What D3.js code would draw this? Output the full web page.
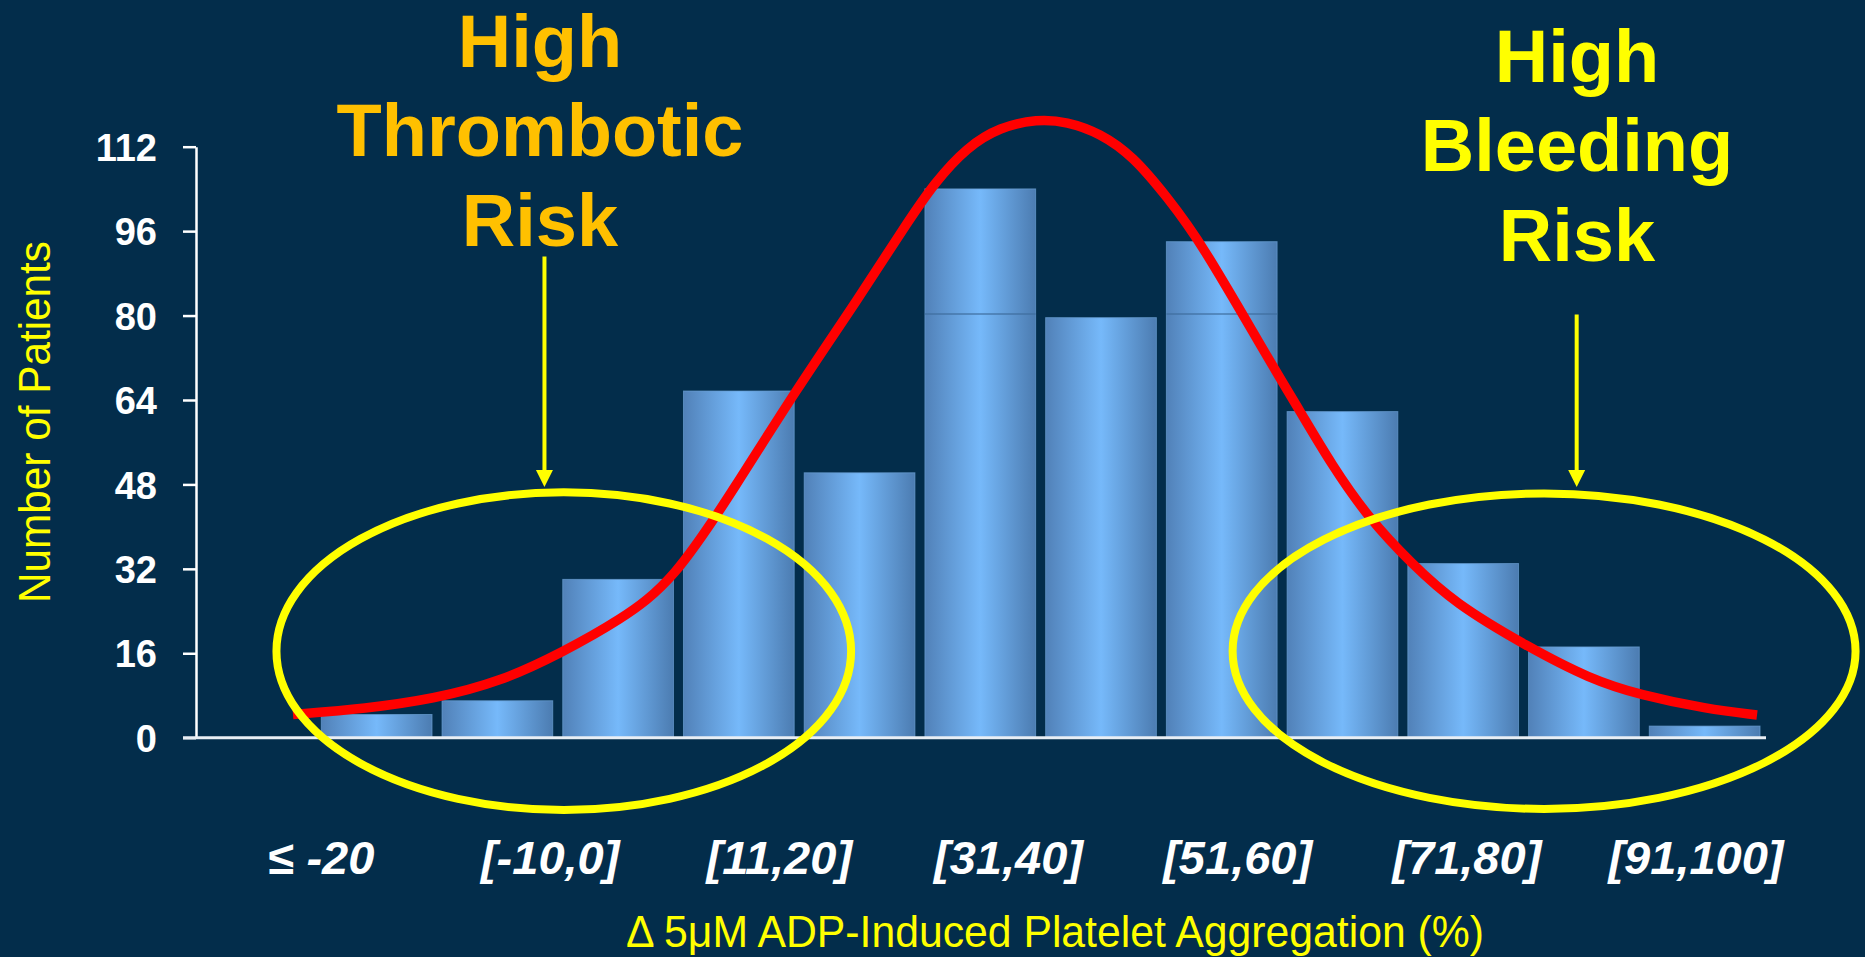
<!DOCTYPE html>
<html>
<head>
<meta charset="utf-8">
<script src="https://cdn.jsdelivr.net/npm/d3@7"></script>
<style>
  html, body { margin: 0; padding: 0; background: #032d4b; }
  svg { display: block; }
</style>
</head>
<body>
<svg id="chart" width="1865" height="957"></svg>
<script>
// ---- data ----
// one bar per aggregation bin (left to right)
const binIds = ["bin01","bin02","bin03","bin04","bin05","bin06","bin07","bin08","bin09","bin10","bin11","bin12"];
const patients = [4.4, 7, 30, 65.7, 50.2, 104, 79.6, 94, 61.8, 33, 17.2, 2.2];

// labels written under the axis
const xTickLabels = ["≤ -20", "[-10,0]", "[11,20]", "[31,40]", "[51,60]", "[71,80]", "[91,100]"];
const yTicks = [0, 16, 32, 48, 64, 80, 96, 112];

// fitted distribution curve: position in bin units (0 = first bin centre) and patient count
const curvePos = [-0.693, -0.088, 0.467, 1.022, 1.544, 2.016, 2.455, 2.985, 3.457, 4.004, 4.376, 4.625, 4.890, 5.163, 5.470, 5.718, 5.991, 6.265, 6.547, 6.828, 7.391, 7.648, 7.905, 8.228, 8.568, 8.924, 9.537, 10.050, 10.464, 11.019, 11.434];
const curveVal = [4.40, 5.53, 7.33, 10.56, 16.24, 22.30, 29.51, 48.08, 65.32, 83.70, 96.97, 105.31, 111.94, 115.73, 117.24, 116.77, 114.59, 110.23, 102.47, 93.94, 71.57, 61.91, 51.87, 41.25, 33.11, 25.53, 17.19, 11.12, 8.09, 5.44, 4.30];

// ---- layout ----
const W = 1865, H = 957;
const svg = d3.select("#chart");
const BG = "#032d4b", YELLOW = "#ffff00", GOLD = "#ffc000";
const FONT = "'Liberation Sans', Arial, sans-serif";

svg.append("rect").attr("width", W).attr("height", H).attr("fill", BG);

const x = d3.scaleBand().domain(binIds).range([321.3, 1760]).paddingInner(0.083).paddingOuter(0);
const y = d3.scaleLinear().domain([0, 112]).range([737.7, 146.7]);
const half = x.bandwidth() / 2;
const xPos = d3.scaleLinear().domain([0, binIds.length - 1])
  .range([x(binIds[0]) + half, x(binIds[binIds.length - 1]) + half]);
const xLab = d3.scalePoint().domain(xTickLabels).range([320.5, 1695.5]);

// cylinder-like shading across each bar
const defs = svg.append("defs");
const grad = defs.append("linearGradient").attr("id", "barShade")
  .attr("x1", 0).attr("x2", 1).attr("y1", 0).attr("y2", 0);
grad.append("stop").attr("offset", "0%").attr("stop-color", "#5181b8");
grad.append("stop").attr("offset", "50%").attr("stop-color", "#76b9fa");
grad.append("stop").attr("offset", "100%").attr("stop-color", "#4c7cb1");

// ---- bars ----
const bars = binIds.map((id, i) => ({ id, v: patients[i] }));
svg.append("g").selectAll("rect").data(bars).join("rect")
  .attr("x", d => x(d.id))
  .attr("y", d => y(d.v))
  .attr("width", x.bandwidth())
  .attr("height", d => y(0) - y(d.v))
  .attr("fill", "url(#barShade)")
  .attr("stroke", "#6b9fd4")
  .attr("stroke-opacity", 0.7)
  .attr("stroke-width", 1);

// faint joint line across the tallest bars
const jointLevel = 80.3;
svg.append("g").selectAll("line").data(bars.filter(d => d.v > jointLevel)).join("line")
  .attr("x1", d => x(d.id)).attr("x2", d => x(d.id) + x.bandwidth())
  .attr("y1", y(jointLevel)).attr("y2", y(jointLevel))
  .attr("stroke", "#3f6d9e").attr("stroke-width", 1.5).attr("stroke-opacity", 0.8);

// ---- axes ----
const yAxis = d3.axisLeft(y).tickValues(yTicks).tickSize(13).tickPadding(26).tickSizeOuter(0);
const gy = svg.append("g").attr("transform", "translate(196,0)").call(yAxis);
gy.select(".domain").attr("stroke", "#ffffff").attr("stroke-width", 2.5);
gy.selectAll(".tick line").attr("stroke", "#ffffff").attr("stroke-width", 2.5);
gy.selectAll(".tick text")
  .attr("fill", "#ffffff")
  .attr("dy", "0.36em")
  .style("font-family", FONT)
  .style("font-weight", "bold")
  .style("font-size", "38px");

// baseline
svg.append("line")
  .attr("x1", 183).attr("x2", x.range()[1] + 6)
  .attr("y1", y(0)).attr("y2", y(0))
  .attr("stroke", "#e8eef4").attr("stroke-width", 3);

const xAxis = d3.axisBottom(xLab).tickSize(0).tickPadding(0);
const gx = svg.append("g").attr("transform", "translate(0,874)").call(xAxis);
gx.select(".domain").remove();
gx.selectAll(".tick text")
  .attr("y", 0).attr("dy", 0)
  .attr("fill", "#ffffff")
  .style("font-family", FONT)
  .style("font-weight", "bold")
  .style("font-style", "italic")
  .style("font-size", "47px");

// axis titles
svg.append("text")
  .attr("transform", "translate(50,422) rotate(-90)")
  .attr("text-anchor", "middle")
  .attr("fill", YELLOW)
  .attr("textLength", 362).attr("lengthAdjust", "spacingAndGlyphs")
  .style("font-family", FONT)
  .style("font-size", "44px")
  .text("Number of Patients");

svg.append("text")
  .attr("x", 1055).attr("y", 947)
  .attr("text-anchor", "middle")
  .attr("fill", YELLOW)
  .attr("textLength", 858).attr("lengthAdjust", "spacingAndGlyphs")
  .style("font-family", FONT)
  .style("font-size", "44px")
  .text("Δ 5μM ADP-Induced Platelet Aggregation (%)");

// ---- fitted curve ----
const curvePts = curvePos.map((p, i) => [p, curveVal[i]]);
const line = d3.line().x(d => xPos(d[0])).y(d => y(d[1])).curve(d3.curveBasis);
svg.append("path")
  .attr("d", line(curvePts))
  .attr("fill", "none")
  .attr("stroke", "#ff0000")
  .attr("stroke-width", 9.5)
  .attr("stroke-linecap", "butt")
  .attr("stroke-linejoin", "round");

// ---- risk zones ----
const zones = [
  { cx: 1.55, cy: 16.4, rx: 2.38, ry: 30.1, arrowX: 1.39, arrowTop: 91.2, text: ["High", "Thrombotic", "Risk"], textX: 540, baseY: 66.7, color: GOLD },
  { cx: 9.67, cy: 16.4, rx: 2.58, ry: 29.9, arrowX: 9.94, arrowTop: 80.2, text: ["High", "Bleeding", "Risk"], textX: 1577, baseY: 81.7, color: YELLOW }
];
const arrowTip = 47.5;

zones.forEach(z => {
  svg.append("ellipse")
    .attr("cx", xPos(z.cx)).attr("cy", y(z.cy))
    .attr("rx", xPos(z.rx) - xPos(0)).attr("ry", y(0) - y(z.ry))
    .attr("fill", "none").attr("stroke", YELLOW).attr("stroke-width", 8);

  const ax = xPos(z.arrowX), tipY = y(arrowTip);
  svg.append("line")
    .attr("x1", ax).attr("x2", ax)
    .attr("y1", y(z.arrowTop)).attr("y2", tipY - 14)
    .attr("stroke", YELLOW).attr("stroke-width", 4);
  svg.append("path")
    .attr("d", `M${ax - 8.5},${tipY - 17} L${ax + 8.5},${tipY - 17} L${ax},${tipY} Z`)
    .attr("fill", YELLOW);

  const t = svg.append("text")
    .attr("text-anchor", "middle")
    .attr("fill", z.color)
    .style("font-family", FONT)
    .style("font-weight", "bold")
    .style("font-size", "74px");
  z.text.forEach((s, i) => {
    t.append("tspan").attr("x", z.textX).attr("y", z.baseY + i * 89.5).text(s);
  });
});
</script>
</body>
</html>
